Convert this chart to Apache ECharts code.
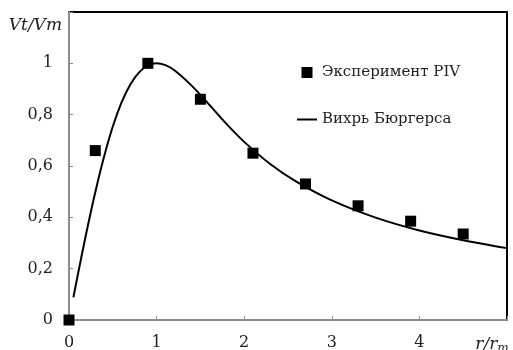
<!DOCTYPE html>
<html>
<head>
<meta charset="utf-8">
<script src="https://cdn.jsdelivr.net/npm/echarts@6/dist/echarts.min.js"></script>
<style>
  html, body { margin: 0; padding: 0; background: #fff; }
  #chart { width: 513px; height: 350px; }
</style>
</head>
<body>
<div id="chart"></div>
<script>
// Measured tangential velocity (PIV)
const pivR = [0, 0.3, 0.9, 1.5, 2.1, 2.7, 3.3, 3.9, 4.5];
const pivV = [0, 0.66, 1.0, 0.86, 0.65, 0.53, 0.445, 0.385, 0.335];

// Burgers vortex profile
const burgersR = [0.05, 0.1, 0.2, 0.3, 0.4, 0.5, 0.6, 0.7, 0.8, 0.9, 1.0, 1.1, 1.2, 1.4, 1.6, 1.8, 2.0, 2.3, 2.6, 3.0, 3.5, 4.0, 4.5, 5.0];
const burgersV = [0.088, 0.175, 0.343, 0.498, 0.636, 0.754, 0.848, 0.918, 0.965, 0.992, 1.0, 0.993, 0.974, 0.913, 0.839, 0.763, 0.694, 0.607, 0.538, 0.466, 0.399, 0.349, 0.311, 0.28];

const seriesNames = ['Эксперимент PIV', 'Вихрь Бюргерса'];
const yTitle = 'Vt/Vm';

const chart = echarts.init(document.getElementById('chart'), null, { renderer: 'canvas' });
const serif = 'DejaVu Serif';
const axisGray = '#8c8c8c';

chart.setOption({
  animation: false,
  grid: {
    left: 69, right: 6, top: 12, bottom: 30,
    outerBoundsMode: 'none', containLabel: false,
    show: true, borderColor: '#000', borderWidth: 2, backgroundColor: 'transparent'
  },
  legend: {
    orient: 'vertical',
    left: 292, top: 60,
    itemWidth: 20, itemHeight: 11, itemGap: 32,
    textStyle: { fontFamily: serif, fontSize: 15, color: '#222' },
    data: [
      { name: seriesNames[0], icon: 'path://M0,0H10V10H0Z' },
      { name: seriesNames[1], icon: 'path://M0,0H20V2H0Z' }
    ]
  },
  xAxis: {
    type: 'value', min: 0, max: 5, interval: 1,
    axisLine: { show: true, onZero: false, lineStyle: { color: axisGray, width: 2 } },
    axisTick: { show: true, inside: true, length: 4, lineStyle: { color: axisGray } },
    splitLine: { show: false },
    axisLabel: {
      margin: 15, showMaxLabel: true,
      fontFamily: serif, fontSize: 16, color: '#222',
      formatter: v => v === 5 ? '{it|r/r}{sub|m}' : String(v),
      rich: {
        it: { fontFamily: serif, fontStyle: 'italic', fontSize: 17, color: '#222' },
        sub: { fontFamily: serif, fontStyle: 'italic', fontSize: 12, color: '#222', padding: [8, 30, 0, 0] }
      }
    }
  },
  yAxis: {
    type: 'value', min: 0, max: 1.2, interval: 0.2,
    name: yTitle, nameLocation: 'end', nameGap: -14,
    nameTextStyle: {
      fontFamily: serif, fontStyle: 'italic', fontSize: 17, color: '#222',
      align: 'right', verticalAlign: 'middle', padding: [0, 7, 0, 0]
    },
    axisLine: { show: true, onZero: false, lineStyle: { color: axisGray, width: 2 } },
    axisTick: { show: true, inside: true, length: 4, lineStyle: { color: axisGray } },
    splitLine: { show: false },
    axisLabel: {
      margin: 16, fontFamily: serif, fontSize: 16, color: '#222',
      formatter: v => {
        const r = Math.round(v * 10) / 10;
        return r >= 1.2 ? '' : String(r).replace('.', ',');
      }
    }
  },
  series: [
    {
      name: seriesNames[0], type: 'scatter',
      symbol: 'rect', symbolSize: 11, symbolKeepAspect: true,
      itemStyle: { color: '#000', opacity: 1 },
      data: pivR.map((r, i) => [r, pivV[i]]),
      z: 3
    },
    {
      name: seriesNames[1], type: 'line',
      smooth: 0.3, showSymbol: false, symbol: 'none', symbolKeepAspect: true,
      lineStyle: { color: '#000', width: 2 },
      itemStyle: { color: '#000' },
      data: burgersR.map((r, i) => [r, burgersV[i]]),
      z: 2
    }
  ]
});
</script>
</body>
</html>
